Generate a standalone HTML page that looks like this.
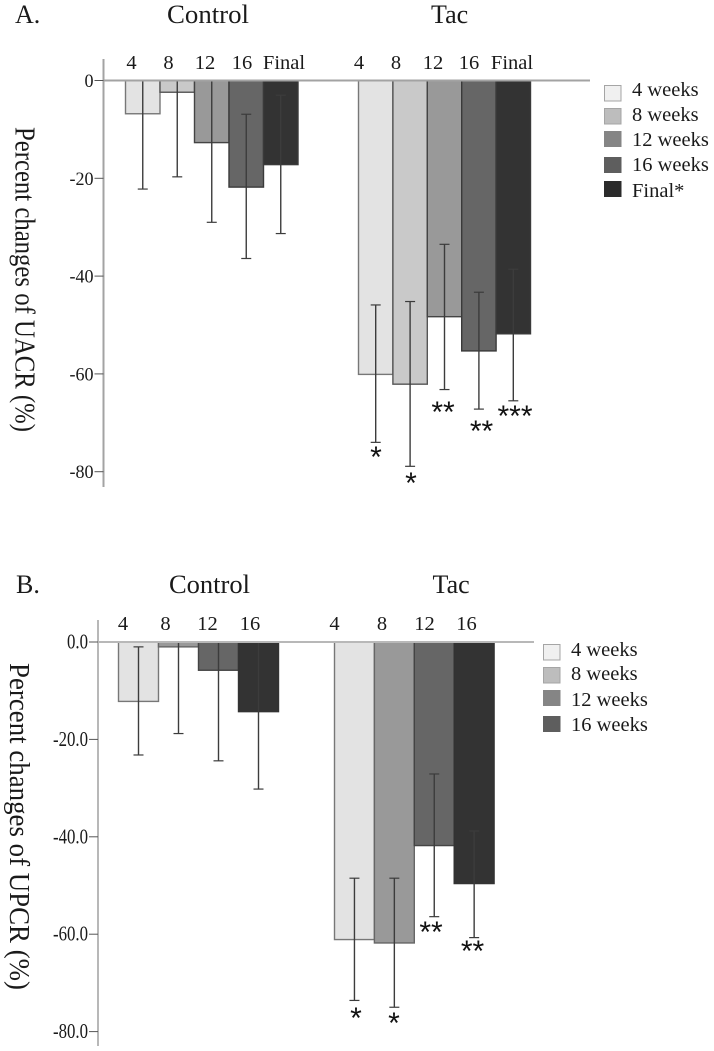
<!DOCTYPE html>
<html lang="en">
<head>
<meta charset="utf-8">
<title>Percent changes of UACR and UPCR</title>
<style>
html,body{margin:0;padding:0;background:#fff;}
svg{display:block;}
text{font-family:"Liberation Serif",serif;fill:#1a1a1a;}
.head{font-size:26px;}
.cat{font-size:20.5px;text-anchor:middle;}
.leg{font-size:20.5px;}
.star{font-family:"Liberation Sans",sans-serif;font-size:30px;text-anchor:middle;fill:#111;}
.ytitle{font-size:28px;}
</style>
</head>
<body>
<svg id="figure" width="714" height="1051" viewBox="0 0 714 1051" xmlns="http://www.w3.org/2000/svg">
  <rect x="0" y="0" width="714" height="1051" fill="#fff"/>
  <g id="marksA"></g>
  <g id="marksB"></g>

  <text class="head" x="15" y="23">A.</text>
  <text class="head" x="167" y="23" textLength="82" lengthAdjust="spacingAndGlyphs">Control</text>
  <text class="head" x="431" y="23">Tac</text>

  <text class="cat" x="131.5" y="69">4</text>
  <text class="cat" x="168.5" y="69">8</text>
  <text class="cat" x="205" y="69">12</text>
  <text class="cat" x="242" y="69">16</text>
  <text class="cat" x="284" y="69">Final</text>
  <text class="cat" x="359" y="69">4</text>
  <text class="cat" x="396" y="69">8</text>
  <text class="cat" x="433" y="69">12</text>
  <text class="cat" x="469" y="69">16</text>
  <text class="cat" x="512" y="69">Final</text>

  <text class="ytitle" transform="translate(15.5,127) rotate(90)" x="0" y="0" textLength="305" lengthAdjust="spacingAndGlyphs">Percent changes of UACR (%)</text>

  <text class="star" x="376" y="467">*</text>
  <text class="star" x="411" y="493">*</text>
  <text class="star" x="443" y="422">**</text>
  <text class="star" x="481.5" y="441">**</text>
  <text class="star" x="515" y="426">***</text>

  <g>
    <rect x="604.5" y="85.5" width="16.5" height="15.5" fill="#f0f0f0" stroke="#a5a5a5"/>
    <text class="leg" x="632" y="96">4 weeks</text>
    <rect x="604.5" y="108.5" width="16.5" height="15.5" fill="#bdbdbd" stroke="#a5a5a5"/>
    <text class="leg" x="632" y="121">8 weeks</text>
    <rect x="604" y="131" width="17.5" height="16" fill="#858585"/>
    <text class="leg" x="632" y="146">12 weeks</text>
    <rect x="604" y="157" width="17.5" height="16" fill="#5e5e5e"/>
    <text class="leg" x="632" y="171">16 weeks</text>
    <rect x="604" y="181" width="17.5" height="16" fill="#2b2b2b"/>
    <text class="leg" x="632" y="197">Final*</text>
  </g>

  <text class="head" x="16" y="593">B.</text>
  <text class="head" x="169" y="593" textLength="81" lengthAdjust="spacingAndGlyphs">Control</text>
  <text class="head" x="432.5" y="593">Tac</text>

  <text class="cat" x="123" y="630">4</text>
  <text class="cat" x="165.5" y="630">8</text>
  <text class="cat" x="207.5" y="630">12</text>
  <text class="cat" x="250" y="630">16</text>
  <text class="cat" x="334.5" y="630">4</text>
  <text class="cat" x="382" y="630">8</text>
  <text class="cat" x="424.5" y="630">12</text>
  <text class="cat" x="466.5" y="630">16</text>

  <text class="ytitle" transform="translate(10,663) rotate(90)" x="0" y="0" textLength="327" lengthAdjust="spacingAndGlyphs">Percent changes of UPCR (%)</text>

  <text class="star" x="356" y="1028">*</text>
  <text class="star" x="394" y="1033">*</text>
  <text class="star" x="431" y="942">**</text>
  <text class="star" x="472.5" y="961">**</text>

  <g>
    <rect x="543.5" y="644.5" width="16.5" height="15.5" fill="#f0f0f0" stroke="#a5a5a5"/>
    <text class="leg" x="571" y="656">4 weeks</text>
    <rect x="543.5" y="667.5" width="16.5" height="15.5" fill="#bdbdbd" stroke="#a5a5a5"/>
    <text class="leg" x="571" y="680">8 weeks</text>
    <rect x="543" y="690" width="17.5" height="16" fill="#858585"/>
    <text class="leg" x="571" y="706">12 weeks</text>
    <rect x="543" y="716" width="17.5" height="16" fill="#5e5e5e"/>
    <text class="leg" x="571" y="731">16 weeks</text>
  </g>
</svg>

<script>
// Panel A (UACR) values
const weeksA = ['4', '8', '12', '16', 'final'];
const controlMeanA = [-6.8, -2.4, -12.7, -21.8, -17.2];
const controlErrTopA = [0, 0, 0, -6.9, -3.0];
const controlErrBottomA = [-22.2, -19.7, -29.0, -36.4, -31.3];
const tacMeanA = [-60.1, -62.1, -48.3, -55.3, -51.8];
const tacErrTopA = [-45.9, -45.2, -33.5, -43.3, -38.6];
const tacErrBottomA = [-74.0, -78.9, -63.2, -67.2, -65.5];
const tickValuesA = [0, -20, -40, -60, -80];
const tickLabelsA = ['0', '-20', '-40', '-60', '-80'];

// Panel B (UPCR) values
const weeksB = ['4', '8', '12', '16'];
const controlMeanB = [-12.2, -1.0, -5.8, -14.3];
const controlErrTopB = [-1.0, 0, 0, 0];
const controlErrBottomB = [-23.2, -18.8, -24.4, -30.2];
const tacMeanB = [-61.1, -61.8, -41.8, -49.6];
const tacErrTopB = [-48.5, -48.5, -27.1, -38.8];
const tacErrBottomB = [-73.6, -75.0, -56.4, -60.7];
const tickValuesB = [0, -20, -40, -60, -80];
const tickLabelsB = ['0.0', '-20.0', '-40.0', '-60.0', '-80.0'];

const SVG_NS = 'http://www.w3.org/2000/svg';

function make(parent, tag, attrs) {
  const el = document.createElementNS(SVG_NS, tag);
  Object.keys(attrs).forEach(function (k) { el.setAttribute(k, attrs[k]); });
  parent.appendChild(el);
  return el;
}

// Axis functions
function yScaleA(v) { return 80.5 - v * 4.89; }
function yScaleB(v) { return 642 - v * 4.87; }
function xBand(start, step, i) { return start + step * i; }

function drawGroup(root, prefix, cats, means, tops, bottoms, yScale, start, step, fills, edges) {
  cats.forEach(function (cat, i) {
    const x = xBand(start, step, i);
    const y0 = yScale(0);
    const yv = yScale(means[i]);
    const bar = make(root, 'rect', {
      x: x, y: y0, width: step, height: yv - y0,
      fill: fills[i], stroke: edges[i], 'stroke-width': 1.4
    });
    
    
  });
  cats.forEach(function (cat, i) {
    const cx = xBand(start, step, i) + step / 2;
    const yt = yScale(tops[i]);
    const yb = yScale(bottoms[i]);
    const stem = make(root, 'line', { x1: cx, x2: cx, y1: yt, y2: yb, stroke: '#3c3c3c', 'stroke-width': 1.4 });
    
    
    const capTop = make(root, 'line', { x1: cx - 5, x2: cx + 5, y1: yt, y2: yt, stroke: '#3c3c3c', 'stroke-width': 1.2 });
    
    
    const capBottom = make(root, 'line', { x1: cx - 5, x2: cx + 5, y1: yb, y2: yb, stroke: '#3c3c3c', 'stroke-width': 1.2 });
    
    
  });
}

function drawAxes(root, prefix, values, labels, yScale, axisX, axisTop, axisBottom, baseEnd, color, labelStyle) {
  const axis = make(root, 'line', { x1: axisX, x2: axisX, y1: axisTop, y2: axisBottom, stroke: color, 'stroke-width': 2 });
  
  
  const base = make(root, 'line', { x1: axisX, x2: baseEnd, y1: yScale(0), y2: yScale(0), stroke: color, 'stroke-width': 2 });
  
  
  values.forEach(function (v, i) {
    const y = yScale(v);
    const tick = make(root, 'line', { x1: axisX - 9, x2: axisX, y1: y, y2: y, stroke: '#555', 'stroke-width': 1 });
    
    
    const label = make(root, 'text', {
      x: axisX - 10, y: y + 6.5, 'text-anchor': 'end',
      style: 'font-size:' + labelStyle.size + 'px'
    });
    
    
    label.textContent = labels[i];
    label.setAttribute('transform', 'translate(' + (axisX - 10) + ',0) scale(' + labelStyle.squeeze + ',1) translate(' + (-(axisX - 10)) + ',0)');
  });
}

const fillsA = ['#e3e3e3', '#c9c9c9', '#999999', '#666666', '#333333'];
const edgesA = ['#777777', '#555555', '#444444', '#3a3a3a', '#3a3a3a'];
const fillsB = ['#e3e3e3', '#999999', '#666666', '#333333'];
const edgesB = ['#777777', '#666666', '#444444', '#333333'];

const rootA = document.getElementById('marksA');
drawGroup(rootA, 'panel-a-control', weeksA, controlMeanA, controlErrTopA, controlErrBottomA, yScaleA, 125.5, 34.5, fillsA, edgesA);
drawGroup(rootA, 'panel-a-tac', weeksA, tacMeanA, tacErrTopA, tacErrBottomA, yScaleA, 358.5, 34.4, fillsA, edgesA);
drawAxes(rootA, 'panel-a', tickValuesA, tickLabelsA, yScaleA, 103.5, 59, 487, 590, '#a3a3a3', { size: 19, squeeze: 0.95 });

const rootB = document.getElementById('marksB');
drawGroup(rootB, 'panel-b-control', weeksB, controlMeanB, controlErrTopB, controlErrBottomB, yScaleB, 118.5, 40, fillsB, edgesB);
drawGroup(rootB, 'panel-b-tac', weeksB, tacMeanB, tacErrTopB, tacErrBottomB, yScaleB, 334.5, 39.9, fillsB, edgesB);
drawAxes(rootB, 'panel-b', tickValuesB, tickLabelsB, yScaleB, 98, 620, 1046, 534, '#b8b8b8', { size: 21, squeeze: 0.8 });
</script>
</body>
</html>
